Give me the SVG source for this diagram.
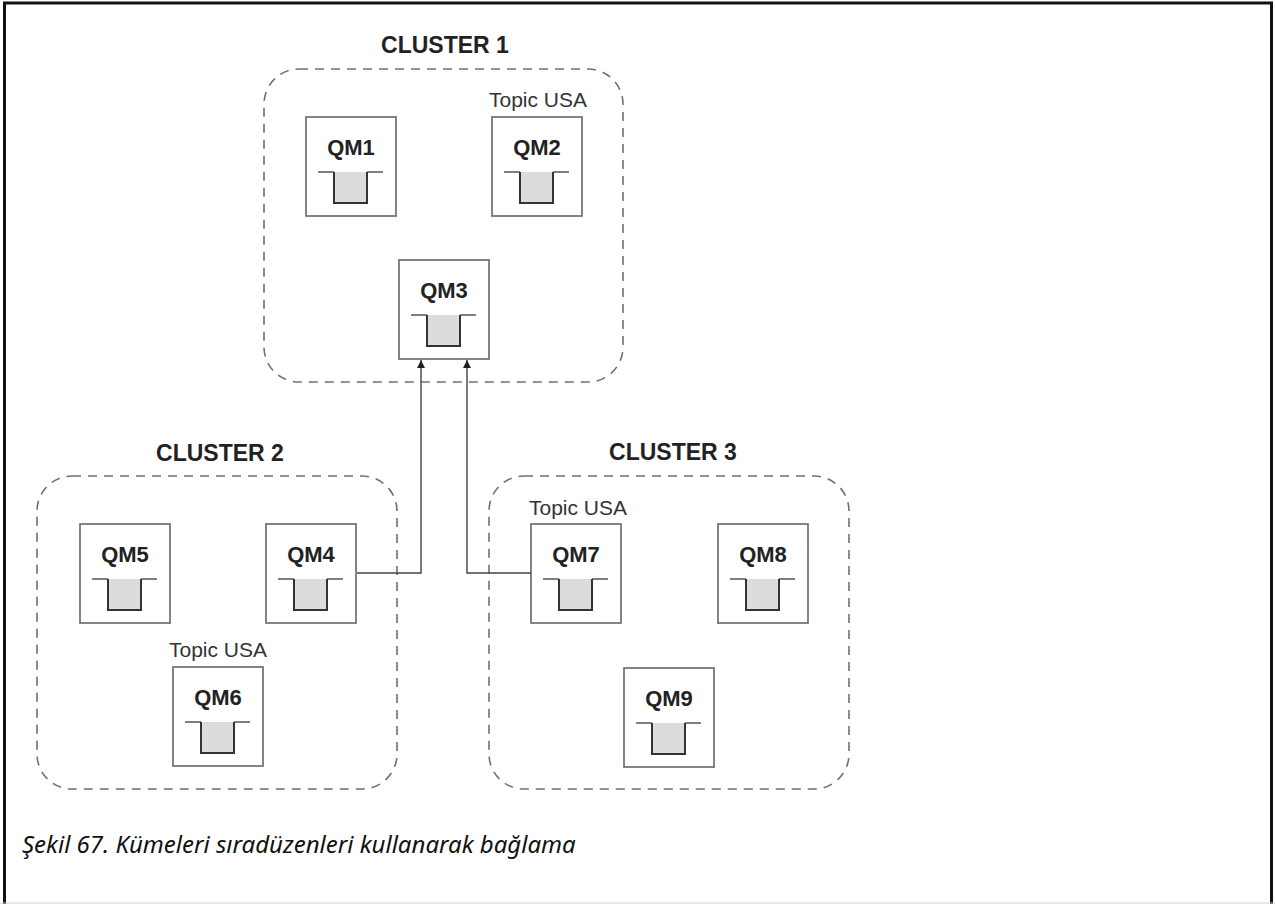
<svg xmlns="http://www.w3.org/2000/svg" xmlns:xlink="http://www.w3.org/1999/xlink" width="1275" height="904" viewBox="0 0 1275 904">
  <style>
    .cluster { fill: none; stroke: #707070; stroke-width: 1.6; stroke-dasharray: 9 7; }
    .ctitle { font-family: "Liberation Sans", Arial, sans-serif; font-weight: bold; font-size: 23px; fill: #222; text-anchor: middle; }
    .box { fill: #fff; stroke: #777; stroke-width: 1.8; }
    .qm { font-family: "Liberation Sans", Arial, sans-serif; font-weight: bold; font-size: 22px; fill: #222; text-anchor: middle; }
    .topic { font-family: "Liberation Sans", Arial, sans-serif; font-size: 21px; fill: #333; text-anchor: middle; }
    .qline { fill: none; stroke: #555; stroke-width: 1.5; }
    .bucket { fill: #dcdcdc; stroke: #333; stroke-width: 2; }
    .conn { fill: none; stroke: #444; stroke-width: 1.4; }
    .caption { font-family: "Noto Sans", "Liberation Sans", sans-serif; font-style: italic; font-size: 24px; fill: #111; }
  </style>
  <defs>
    <marker id="arrow" viewBox="0 0 10 10" refX="10" refY="5" markerWidth="8" markerHeight="8" markerUnits="userSpaceOnUse" orient="auto">
      <path d="M0,0 L10,5 L0,10 z" fill="#222"/>
    </marker>
    <g id="queue">
      <path class="qline" d="M12,55 H28 M61,55 H77"/>
      <path class="bucket" d="M28,55 V86 H61 V55"/>
    </g>
  </defs>

  <rect x="0" y="0" width="1275" height="904" fill="#fff"/>
  <g id="frame">
    <path d="M4.5,904 V3 H1271.5 V904" fill="none" stroke="#111" stroke-width="3"/>
    <line x1="0" y1="903" x2="1275" y2="903" stroke="#d0d0d0" stroke-width="1"/>
  </g>

  <g id="cluster1">
    <rect class="cluster" x="264" y="69" width="359" height="313" rx="35" ry="35"/>
    <text class="ctitle" x="445" y="53">CLUSTER 1</text>
  </g>
  <g id="cluster2">
    <rect class="cluster" x="37" y="476" width="360" height="313" rx="35" ry="35"/>
    <text class="ctitle" x="220" y="461">CLUSTER 2</text>
  </g>
  <g id="cluster3">
    <rect class="cluster" x="489" y="476" width="360" height="313" rx="35" ry="35"/>
    <text class="ctitle" x="673" y="460">CLUSTER 3</text>
  </g>

  <g id="QM1" transform="translate(306,117)">
    <rect class="box" x="0" y="0" width="90" height="99"/>
    <text class="qm" x="45" y="38">QM1</text>
    <use xlink:href="#queue" href="#queue"/>
  </g>
  <g id="QM2" transform="translate(492,117)">
    <rect class="box" x="0" y="0" width="90" height="99"/>
    <text class="qm" x="45" y="38">QM2</text>
    <use xlink:href="#queue" href="#queue"/>
    <text class="topic" x="46" y="-10">Topic USA</text>
  </g>
  <g id="QM3" transform="translate(399,260)">
    <rect class="box" x="0" y="0" width="90" height="99"/>
    <text class="qm" x="45" y="38">QM3</text>
    <use xlink:href="#queue" href="#queue"/>
  </g>
  <g id="QM5" transform="translate(80,524)">
    <rect class="box" x="0" y="0" width="90" height="99"/>
    <text class="qm" x="45" y="38">QM5</text>
    <use xlink:href="#queue" href="#queue"/>
  </g>
  <g id="QM4" transform="translate(266,524)">
    <rect class="box" x="0" y="0" width="90" height="99"/>
    <text class="qm" x="45" y="38">QM4</text>
    <use xlink:href="#queue" href="#queue"/>
  </g>
  <g id="QM6" transform="translate(173,667)">
    <rect class="box" x="0" y="0" width="90" height="99"/>
    <text class="qm" x="45" y="38">QM6</text>
    <use xlink:href="#queue" href="#queue"/>
    <text class="topic" x="45" y="-10">Topic USA</text>
  </g>
  <g id="QM7" transform="translate(531,524)">
    <rect class="box" x="0" y="0" width="90" height="99"/>
    <text class="qm" x="45" y="38">QM7</text>
    <use xlink:href="#queue" href="#queue"/>
    <text class="topic" x="47" y="-9">Topic USA</text>
  </g>
  <g id="QM8" transform="translate(718,524)">
    <rect class="box" x="0" y="0" width="90" height="99"/>
    <text class="qm" x="45" y="38">QM8</text>
    <use xlink:href="#queue" href="#queue"/>
  </g>
  <g id="QM9" transform="translate(624,668)">
    <rect class="box" x="0" y="0" width="90" height="99"/>
    <text class="qm" x="45" y="38">QM9</text>
    <use xlink:href="#queue" href="#queue"/>
  </g>

  <g id="connectors">
    <path class="conn" d="M357,573 H421 V360" marker-end="url(#arrow)"/>
    <path class="conn" d="M531,573 H467 V360" marker-end="url(#arrow)"/>
  </g>

  <text class="caption" x="22" y="853">Şekil 67. Kümeleri sıradüzenleri kullanarak bağlama</text>
</svg>
